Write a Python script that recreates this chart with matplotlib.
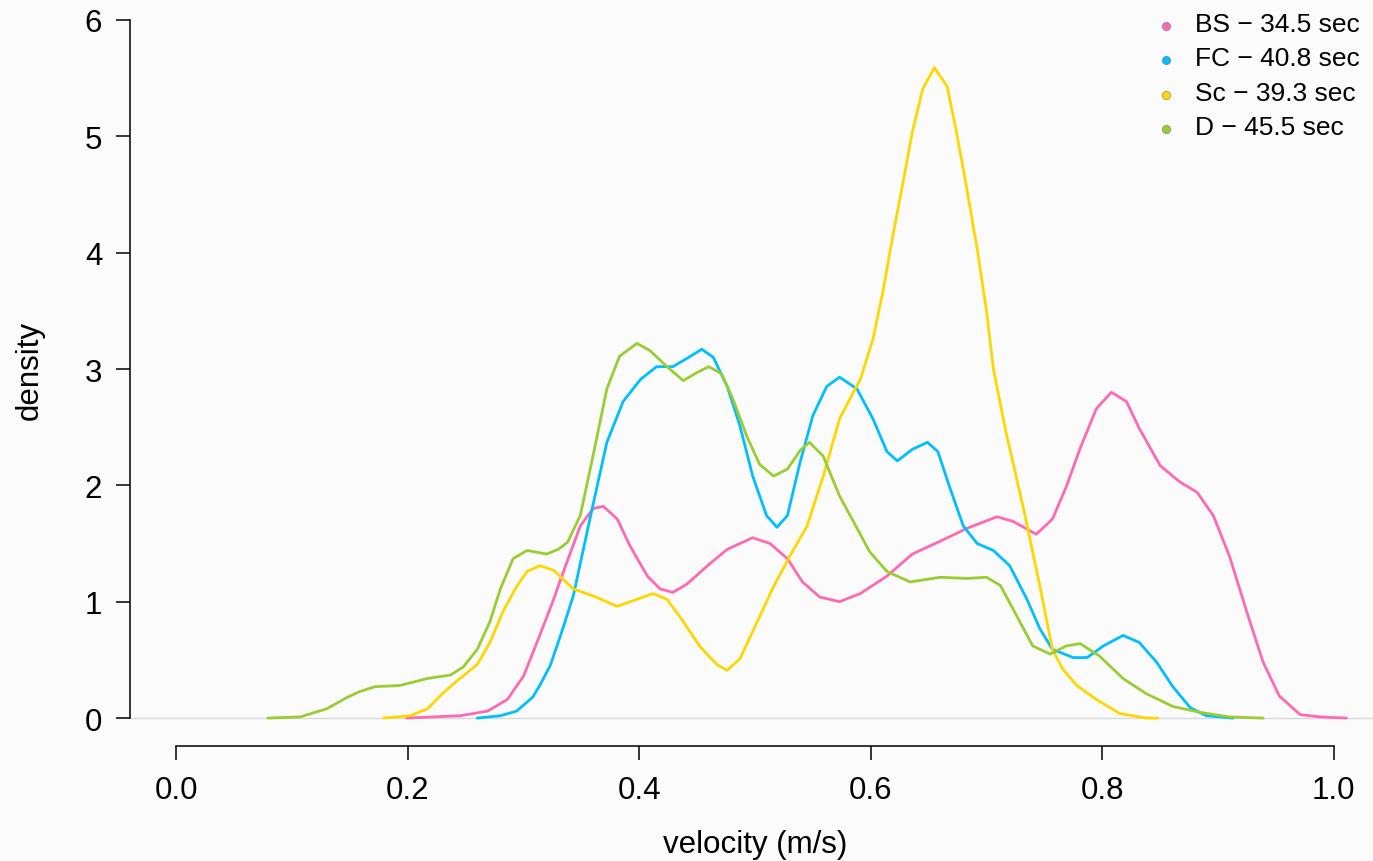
import matplotlib
matplotlib.use('Agg')
import matplotlib.pyplot as plt
from matplotlib.lines import Line2D

plt.rcParams['font.family'] = ['Liberation Sans', 'DejaVu Sans']

# density curves (velocity in m/s, density)
bs_v = [0.199, 0.245, 0.269, 0.286, 0.300, 0.314, 0.326, 0.332, 0.349, 0.360, 0.369, 0.381,
        0.392, 0.407, 0.418, 0.429, 0.441, 0.459, 0.476, 0.498, 0.513, 0.528, 0.541, 0.556,
        0.573, 0.591, 0.614, 0.636, 0.660, 0.683, 0.709, 0.723, 0.743, 0.757, 0.769, 0.781,
        0.795, 0.808, 0.821, 0.832, 0.850, 0.867, 0.882, 0.896, 0.910, 0.925, 0.939, 0.953,
        0.971, 0.988, 1.011]
bs_d = [0.00, 0.02, 0.06, 0.16, 0.36, 0.71, 1.02, 1.19, 1.65, 1.80, 1.82, 1.71,
        1.48, 1.22, 1.11, 1.08, 1.15, 1.31, 1.45, 1.55, 1.50, 1.37, 1.17, 1.04,
        1.00, 1.07, 1.22, 1.41, 1.52, 1.63, 1.73, 1.69, 1.58, 1.71, 1.99, 2.32,
        2.66, 2.80, 2.72, 2.49, 2.17, 2.03, 1.94, 1.74, 1.39, 0.91, 0.48, 0.19,
        0.03, 0.01, 0.00]

fc_v = [0.260, 0.280, 0.294, 0.308, 0.314, 0.323, 0.332, 0.343, 0.358, 0.372, 0.386, 0.401,
        0.415, 0.429, 0.441, 0.454, 0.464, 0.476, 0.487, 0.498, 0.510, 0.519, 0.528, 0.539,
        0.550, 0.562, 0.573, 0.588, 0.602, 0.614, 0.623, 0.636, 0.649, 0.658, 0.668, 0.680,
        0.692, 0.706, 0.720, 0.735, 0.746, 0.757, 0.775, 0.787, 0.801, 0.818, 0.832, 0.847,
        0.861, 0.876, 0.890, 0.913]
fc_d = [0.00, 0.02, 0.06, 0.18, 0.28, 0.45, 0.71, 1.05, 1.74, 2.37, 2.72, 2.91,
        3.02, 3.02, 3.09, 3.17, 3.10, 2.85, 2.51, 2.08, 1.74, 1.64, 1.74, 2.20,
        2.60, 2.85, 2.93, 2.83, 2.57, 2.29, 2.21, 2.31, 2.37, 2.29, 1.99, 1.65,
        1.50, 1.44, 1.31, 1.02, 0.77, 0.59, 0.52, 0.52, 0.62, 0.71, 0.65, 0.48,
        0.27, 0.09, 0.02, 0.00]

sc_v = [0.179, 0.202, 0.217, 0.231, 0.245, 0.260, 0.271, 0.282, 0.294, 0.303, 0.314, 0.326,
        0.343, 0.360, 0.381, 0.395, 0.412, 0.424, 0.438, 0.452, 0.467, 0.476, 0.487, 0.502,
        0.516, 0.530, 0.545, 0.559, 0.573, 0.585, 0.591, 0.602, 0.611, 0.619, 0.628, 0.636,
        0.645, 0.655, 0.666, 0.674, 0.683, 0.692, 0.700, 0.706, 0.717, 0.732, 0.746, 0.757,
        0.766, 0.778, 0.795, 0.815, 0.838, 0.848]
sc_d = [0.00, 0.02, 0.08, 0.22, 0.34, 0.46, 0.65, 0.91, 1.13, 1.26, 1.31, 1.27,
        1.11, 1.05, 0.96, 1.01, 1.07, 1.02, 0.83, 0.62, 0.46, 0.41, 0.51, 0.83,
        1.13, 1.39, 1.65, 2.08, 2.57, 2.80, 2.91, 3.26, 3.69, 4.14, 4.61, 5.04,
        5.41, 5.59, 5.43, 5.04, 4.55, 4.03, 3.50, 3.00, 2.45, 1.80, 1.14, 0.59,
        0.42, 0.28, 0.16, 0.04, 0.00, 0.00]

d_v = [0.079, 0.107, 0.130, 0.148, 0.159, 0.172, 0.193, 0.217, 0.237, 0.248, 0.260, 0.271,
       0.280, 0.291, 0.303, 0.320, 0.330, 0.338, 0.349, 0.360, 0.372, 0.383, 0.398, 0.409,
       0.424, 0.438, 0.450, 0.460, 0.471, 0.481, 0.493, 0.504, 0.516, 0.528, 0.539, 0.547,
       0.559, 0.573, 0.585, 0.599, 0.614, 0.634, 0.660, 0.683, 0.700, 0.712, 0.726, 0.740,
       0.755, 0.769, 0.781, 0.798, 0.818, 0.838, 0.861, 0.884, 0.910, 0.939]
d_d = [0.00, 0.01, 0.08, 0.18, 0.23, 0.27, 0.28, 0.34, 0.37, 0.44, 0.59, 0.83,
       1.11, 1.37, 1.44, 1.41, 1.45, 1.51, 1.74, 2.25, 2.83, 3.11, 3.22, 3.16,
       3.02, 2.90, 2.97, 3.02, 2.96, 2.74, 2.42, 2.18, 2.08, 2.14, 2.30, 2.37,
       2.25, 1.91, 1.69, 1.43, 1.26, 1.17, 1.21, 1.20, 1.21, 1.14, 0.88, 0.62,
       0.55, 0.62, 0.64, 0.53, 0.34, 0.21, 0.10, 0.05, 0.01, 0.00]

labels = ['BS \u2212 34.5 sec', 'FC \u2212 40.8 sec', 'Sc \u2212 39.3 sec', 'D \u2212 45.5 sec']
colors = ['#ff69b4', '#00bfff', '#ffd700', '#9acd32']
xticks = [0.0, 0.2, 0.4, 0.6, 0.8, 1.0]
yticks = [0, 1, 2, 3, 4, 5, 6]

W, H = 1373, 862
fig = plt.figure(figsize=(W / 100, H / 100), dpi=100, facecolor='#fbfbfb')
ax = fig.add_axes([130 / W, 115 / H, 1250 / W, 754 / H])
ax.set_facecolor('#fbfbfb')
ax.set_xlim(-0.04, 1.04)
ax.set_ylim(-0.24, 6.24)

ax.axhline(0, color='#d8d8d8', lw=1, zorder=1)
series = [(bs_v, bs_d), (fc_v, fc_d), (sc_v, sc_d), (d_v, d_d)]
for (v, d), c in zip(series, colors):
    ax.plot(v, d, color=c, lw=2.0, solid_joinstyle='round', solid_capstyle='round', zorder=2)

for side in ('top', 'right'):
    ax.spines[side].set_visible(False)
ax.spines['left'].set_bounds(0, 6)
ax.spines['bottom'].set_bounds(0, 1)
for side in ('left', 'bottom'):
    ax.spines[side].set_linewidth(1.1)

ax.set_xticks(xticks)
ax.set_xticklabels(['%.1f' % t for t in xticks])
ax.set_yticks(yticks)
ax.set_yticklabels([str(t) for t in yticks])
ax.tick_params(axis='both', direction='out', length=10, width=1.1, labelsize=22.5)
ax.tick_params(axis='y', pad=10)
ax.tick_params(axis='x', pad=11)

fig.text(755 / W, 1 - 845 / H, 'velocity (m/s)', ha='center', va='center', fontsize=22.5)
fig.text(30 / W, 1 - 370 / H, 'density', ha='center', va='center', rotation=90, fontsize=22.5)

# legend, top right
for i, (lab, c) in enumerate(zip(labels, colors)):
    yy = 1 - (27 + 34.4 * i) / H
    fig.add_artist(Line2D([1166 / W], [yy], marker='o', markersize=6, color=c,
                          markeredgecolor='#777777', markeredgewidth=0.4,
                          transform=fig.transFigure))
    fig.text(1195 / W, yy + 2 / H, lab, ha='left', va='center', fontsize=19)

fig.savefig('out.png', dpi=100, facecolor=fig.get_facecolor())
